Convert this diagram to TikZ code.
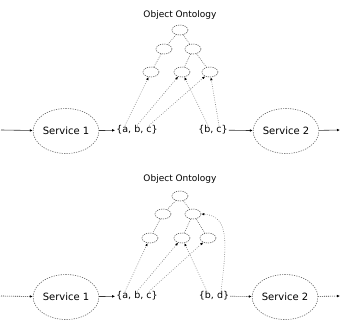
\documentclass[tikz,border=0pt]{standalone}
\usepackage{fontspec}
\setmainfont{DejaVu Sans}
\usetikzlibrary{shapes.geometric,arrows.meta,calc}
\begin{document}
\begin{tikzpicture}[x=1pt,y=-1pt,
  svc/.style={ellipse,draw=black!60,dash pattern=on 1.2pt off 1.2pt,line width=0.6pt,minimum width=62pt,minimum height=45pt,inner sep=0pt,font=\fontsize{10}{12}\selectfont},
  onto/.style={ellipse,draw=black!65,dash pattern=on 1.2pt off 1pt,line width=0.6pt,minimum width=16pt,minimum height=10pt,inner sep=0pt},
  setn/.style={font=\fontsize{9.5}{11}\selectfont,inner sep=1pt},
  ttl/.style={font=\fontsize{9}{11}\selectfont},
  tedge/.style={draw=black!60,dash pattern=on 0.8pt off 1.2pt,line width=0.6pt},
  link/.style={draw=black!50,dash pattern=on 0.8pt off 1.5pt,line width=0.6pt,-{Latex[length=3pt,width=2.6pt,color=black]}},
  flow/.style={draw=black!80,line width=0.6pt,-{Latex[length=3pt,width=2.6pt,color=black]}},
  flowd/.style={flow,dash pattern=on 1pt off 1pt},
]
\useasboundingbox (0,0) rectangle (340,321);

% ---------- top diagram ----------
\node[ttl] (tT) at (180,15) {Object Ontology};
\node[onto] (tr)  at (180,30) {};
\node[onto] (t2a) at (164,49) {};
\node[onto] (t2b) at (193,49) {};
\node[onto] (t3a) at (151,72) {};
\node[onto] (t3b) at (182,72) {};
\node[onto] (t3c) at (210,72) {};
\draw[tedge] (tr) -- (t2a);
\draw[tedge] (tr) -- (t2b);
\draw[tedge] (t2a) -- (t3a);
\draw[tedge] (t2b) -- (t3b);
\draw[tedge] (t2b) -- (t3c);

\node[svc] (ts1) at (66,131) {Service 1};
\node[setn] (tabc) at (137,130) {\{a, b, c\}};
\node[setn] (tbc) at (213,130) {\{b, c\}};
\node[svc] (ts2) at (286,131) {Service 2};
\coordinate (tin) at (1,130);
\coordinate (tout) at (340,130);
\draw[flow] (tin) -- (ts1);
\draw[flow] (ts1) -- (tabc);
\draw[flow] (tbc) -- (ts2);
\draw[flow] (ts2) -- (tout);

\coordinate (tabc-a) at ($(tabc.north)+(-12,1)$);
\coordinate (tabc-b) at ($(tabc.north)+(0,1)$);
\coordinate (tabc-c) at ($(tabc.north)+(12,1)$);
\coordinate (tbc-b) at ($(tbc.north)+(-5,1)$);
\coordinate (tbc-c) at ($(tbc.north)+(6,1)$);
\draw[link] (tabc-a) -- (t3a);
\draw[link] (tabc-b) -- (t3b);
\draw[link] (tabc-c) -- (t3c);
\draw[link] (tbc-b) -- (t3b);
\draw[link] (tbc-c) -- (t3c);

% ---------- bottom diagram ----------
\begin{scope}[shift={(0,166)}]
\node[ttl] (bT) at (180,13) {Object Ontology};
\node[onto] (br)  at (180,30) {};
\node[onto] (b2a) at (163,48) {};
\node[onto] (b2b) at (193,48) {};
\node[onto] (b3a) at (150,72) {};
\node[onto] (b3b) at (182,72) {};
\node[onto] (b3c) at (208,72) {};
\draw[tedge] (br) -- (b2a);
\draw[tedge] (br) -- (b2b);
\draw[tedge] (b2a) -- (b3a);
\draw[tedge] (b2b) -- (b3b);
\draw[tedge] (b2b) -- (b3c);

\node[svc] (bs1) at (66,131) {Service 1};
\node[setn] (babc) at (137,130) {\{a, b, c\}};
\node[setn] (bbd) at (214,130) {\{b, d\}};
\node[svc] (bs2) at (285,131) {Service 2};
\coordinate (bin) at (1,130);
\coordinate (bout) at (340,130);
\draw[flowd] (bin) -- (bs1);
\draw[flow] (bs1) -- (babc);
\draw[flowd] (bbd) -- (bs2);
\draw[flowd] (bs2) -- (bout);

\coordinate (babc-a) at ($(babc.north)+(-12,1)$);
\coordinate (babc-b) at ($(babc.north)+(0,1)$);
\coordinate (babc-c) at ($(babc.north)+(12,1)$);
\coordinate (bbd-b) at ($(bbd.north)+(-7,1)$);
\coordinate (bbd-d) at ($(bbd.north)+(7,1)$);
\draw[link] (babc-a) -- (b3a);
\draw[link] (babc-b) -- (b3b);
\draw[link] (babc-c) -- (b3c);
\draw[link] (bbd-b) -- (b3b);
\draw[link] (bbd-d) .. controls ($(bbd-d)+(6,-50)$) and ($(b2b.east)+(28,2)$) .. (b2b.east);
\end{scope}
\end{tikzpicture}
\end{document}
